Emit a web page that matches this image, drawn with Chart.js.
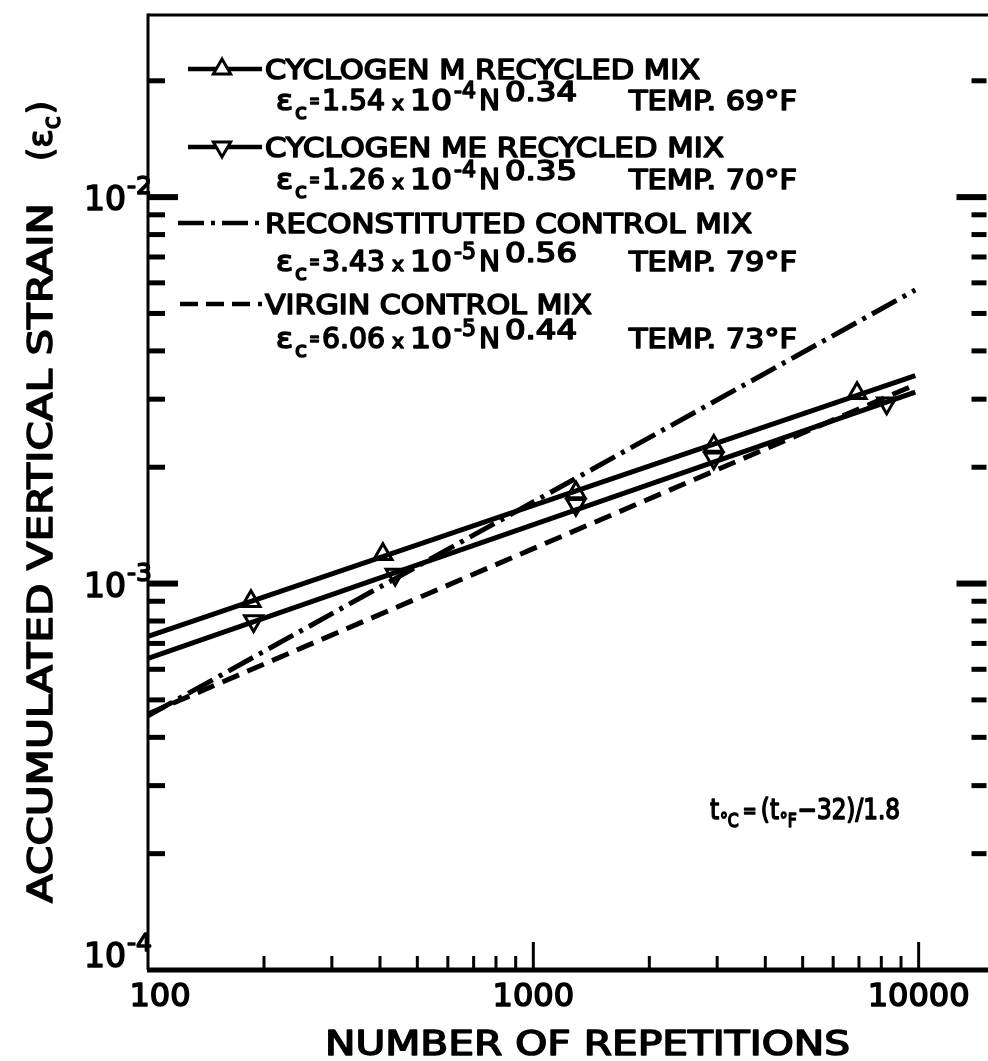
<!DOCTYPE html>
<html>
<head>
<meta charset="utf-8">
<script src="https://cdn.jsdelivr.net/npm/chart.js@4.4.1/dist/chart.umd.min.js"></script>
<style>
  html, body { margin: 0; padding: 0; background: #fff; overflow: hidden; }
  #wrap { width: 1000px; height: 1061px; }
</style>
</head>
<body>
<div id="wrap"><canvas id="c" width="1000" height="1061"></canvas></div>
<script>
// ---------------- DATA ----------------
const fitN = [100, 9800];                       // N range of fitted lines
const cycloMFit  = [7.3e-4, 3.45e-3];           // CYCLOGEN M fit line
const cycloMEFit = [6.4e-4, 3.13e-3];           // CYCLOGEN ME fit line
const reconFit   = [4.55e-4, 5.75e-3];          // RECONSTITUTED (dash-dot)
const virginFit  = [4.6e-4, 3.27e-3];           // VIRGIN (dashed)

const cycloMN   = [185, 407, 1290, 2940, 6920];
const cycloMVal = [9.0e-4, 1.19e-3, 1.72e-3, 2.27e-3, 3.11e-3];
const cycloMEN   = [188, 438, 1290, 2940, 8260];
const cycloMEVal = [8.0e-4, 1.055e-3, 1.6e-3, 2.11e-3, 2.93e-3];

const seriesNames = ['CYCLOGEN M RECYCLED MIX', 'CYCLOGEN ME RECYCLED MIX', 'RECONSTITUTED CONTROL MIX', 'VIRGIN CONTROL MIX'];
const coefMantissa = ['1.54', '1.26', '3.43', '6.06'];
const coefExp = ['-4', '-4', '-5', '-5'];
const powers = ['0.34', '0.35', '0.56', '0.44'];
const temps = ['69', '70', '79', '73'];

const xTickValues = [100, 1000, 10000];
const xTickLabels = ['100', '1000', '10000'];
const yTickValues = [1e-4, 1e-3, 1e-2];
const yTickExps = ['-4', '-3', '-2'];

const xTitle = 'NUMBER OF REPETITIONS';
const yTitle = 'ACCUMULATED VERTICAL STRAIN';
const noteText = ['t', '\u00B0C', '=', '(t', '\u00B0F', '\u221232)/1.8'];
const xMin = 100, xMax = 15000, yMin = 1e-4, yMax = 0.0296;

// ---------------- helpers ----------------
const FAM = '"DejaVu Sans", sans-serif';
const SW = 1.6; // extra stroke to mimic pen lettering
function mk(xsArr, ysArr) { return xsArr.map((x, i) => ({ x: x, y: ysArr[i] })); }
function txt(ctx, s, x, base, size, k, align) {
  ctx.font = size + 'px ' + FAM;
  const w = ctx.measureText(s).width * k;
  let x0 = x;
  if (align === 'center') x0 = x - w / 2; else if (align === 'right') x0 = x - w;
  ctx.save(); ctx.translate(x0, base); ctx.scale(k, 1);
  ctx.textAlign = 'left'; ctx.textBaseline = 'alphabetic';
  ctx.fillText(s, 0, 0);
  ctx.lineWidth = SW; ctx.lineJoin = 'round'; ctx.strokeText(s, 0, 0);
  ctx.restore();
  return x0 + w;
}
function fitText(ctx, s, x, base, size, width) {
  ctx.font = size + 'px ' + FAM;
  const k = width / ctx.measureText(s).width;
  txt(ctx, s, x, base, size, k, 'left');
  return k;
}
function seg(ctx, x1, y1, x2, y2) { ctx.beginPath(); ctx.moveTo(x1, y1); ctx.lineTo(x2, y2); ctx.stroke(); }
function tri(ctx, x, y, r, down) {
  const h = r * 1.5, w = r * 1.732;
  ctx.beginPath();
  if (!down) { ctx.moveTo(x, y - r); ctx.lineTo(x - w / 2, y + h - r); ctx.lineTo(x + w / 2, y + h - r); }
  else { ctx.moveTo(x, y + r); ctx.lineTo(x - w / 2, y - h + r); ctx.lineTo(x + w / 2, y - h + r); }
  ctx.closePath(); ctx.fillStyle = '#fff'; ctx.fill(); ctx.lineWidth = 3; ctx.stroke(); ctx.fillStyle = '#000';
}

const deco = {
  id: 'deco',
  afterDraw(chart) {
    const ctx = chart.ctx, a = chart.chartArea, xs = chart.scales.x, ys = chart.scales.y;
    ctx.save();
    ctx.strokeStyle = '#000'; ctx.fillStyle = '#000'; ctx.lineCap = 'butt';
    // frame (right edge lies beyond the picture)
    ctx.lineWidth = 3;
    seg(ctx, a.left, a.top, a.right + 10, a.top);
    seg(ctx, a.left, a.top - 1.5, a.left, a.bottom);
    ctx.lineWidth = 5;
    seg(ctx, a.left - 1, a.bottom, a.right + 10, a.bottom);

    // x ticks (bottom, inward)
    for (let d = 100; d <= xMax; d *= 10) {
      for (let m = 1; m <= 9; m++) {
        const v = d * m; if (v <= xMin || v >= xMax) continue;
        const px = xs.getPixelForValue(v);
        const len = (m === 1) ? 28 : 14;
        ctx.lineWidth = 3; seg(ctx, px, a.bottom, px, a.bottom - len);
      }
    }
    // y ticks (left and right, inward)
    for (let d = 1e-4; d <= yMax; d *= 10) {
      for (let m = 1; m <= 9; m++) {
        const v = d * m; if (v <= yMin * 1.0001 || v >= yMax) continue;
        const py = ys.getPixelForValue(v);
        const major = (m === 1);
        ctx.lineWidth = major ? 6 : 5;
        seg(ctx, a.left, py, a.left + (major ? 30 : 17), py);
        seg(ctx, a.right, py, a.right - (major ? 30 : 15), py);
      }
    }

    // x tick labels
    xTickValues.forEach((v, i) => {
      let px = xs.getPixelForValue(v);
      if (i === 0) px += 12;
      txt(ctx, xTickLabels[i], px, 1006, 32, 1.0, 'center');
    });
    // y tick labels 10^n
    yTickValues.forEach((v, i) => {
      const py = ys.getPixelForValue(v);
      const off = (i === 0) ? -3 : 13;
      txt(ctx, '10', 126, py + off, 33, 1.0, 'right');
      txt(ctx, yTickExps[i], 127, py + off - 16, 25, 1.0, 'left');
    });

    // axis titles
    fitText(ctx, xTitle, 325, 1055, 34, 525);
    ctx.save();
    ctx.translate(52, 903); ctx.rotate(-Math.PI / 2);
    fitText(ctx, yTitle, 0, 0, 34, 700);
    let xe = txt(ctx, '(\u03B5', 742, 0, 34, 1.0, 'left');
    xe = txt(ctx, 'c', xe, 8, 24, 1.0, 'left');
    txt(ctx, ')', xe + 2, 0, 34, 1.0, 'left');
    ctx.restore();

    // legend
    const labBase = [79, 157, 233, 314];
    const forBase = [110, 189, 271, 348];
    const labW = [435, 459, 487, 327];
    seriesNames.forEach((name, i) => {
      const yl = labBase[i] - 10;
      ctx.lineWidth = 4.5;
      if (i === 0 || i === 1) {
        ctx.setLineDash([]);
        seg(ctx, 188, yl, 262, yl);
        tri(ctx, 222, yl, 10, i === 1);
      } else if (i === 2) {
        ctx.setLineDash([26, 7, 4, 7]); seg(ctx, 178, yl, 262, yl); ctx.setLineDash([]);
      } else {
        ctx.setLineDash([18, 8]); seg(ctx, 180, yl, 262, yl); ctx.setLineDash([]);
      }
      fitText(ctx, name, 265, labBase[i], 27, labW[i]);
      // formula row
      const b = forBase[i];
      fitText(ctx, '\u03B5', 276, b, 28, 17);
      fitText(ctx, 'c', 295, b + 9, 21, 12);
      fitText(ctx, '=', 309, b - 2, 21, 11);
      fitText(ctx, coefMantissa[i], 322, b, 28, 63);
      fitText(ctx, 'x', 392, b, 20, 12);
      fitText(ctx, '10', 410, b, 28, 42);
      fitText(ctx, coefExp[i], 454, b - 12, 23, 22);
      fitText(ctx, 'N', 479, b, 28, 21);
      fitText(ctx, powers[i], 505, b - 9, 26, 72);
      fitText(ctx, 'TEMP. ' + temps[i] + '\u00B0F', 629, b, 27, 168);
    });

    // conversion note, fitted between x=710 and x=900
    const sizes = [28, 19, 20, 28, 19, 28];
    const dy = [0, 8, -2, 0, 8, 0];
    const gap = [0, 1, 5, 5, 1, 1];
    let natural = 0;
    noteText.forEach((s, i) => { ctx.font = sizes[i] + 'px ' + FAM; natural += ctx.measureText(s).width + gap[i]; });
    const kn = 190 / natural;
    let nx = 710; const nb = 819;
    noteText.forEach((s, i) => { nx = txt(ctx, s, nx + gap[i] * kn, nb + dy[i], sizes[i], kn, 'left'); });
    ctx.restore();
  }
};

const lineBase = { showLine: true, pointRadius: 0, borderColor: '#000', borderWidth: 5, fill: false, tension: 0 };
const markBase = { showLine: false, pointStyle: 'triangle', pointRadius: 10.5, pointBorderWidth: 3,
  pointBackgroundColor: '#fff', pointBorderColor: '#000', borderColor: '#000', backgroundColor: '#fff' };

new Chart(document.getElementById('c'), {
  type: 'scatter',
  data: {
    datasets: [
      Object.assign({ label: 'virgin', data: mk(fitN, virginFit), borderDash: [18, 9] }, lineBase),
      Object.assign({ label: 'recon', data: mk(fitN, reconFit), borderDash: [28, 7, 4, 7] }, lineBase),
      Object.assign({ label: 'cycloME', data: mk(fitN, cycloMEFit) }, lineBase),
      Object.assign({ label: 'cycloM', data: mk(fitN, cycloMFit) }, lineBase),
      Object.assign({ label: 'cycloME pts', data: mk(cycloMEN, cycloMEVal), pointRotation: 180 }, markBase),
      Object.assign({ label: 'cycloM pts', data: mk(cycloMN, cycloMVal), pointRotation: 0 }, markBase)
    ]
  },
  options: {
    responsive: false, animation: false, devicePixelRatio: 1,
    layout: { padding: { left: 148, top: 15, right: 8, bottom: 91 } },
    plugins: { legend: { display: false }, tooltip: { enabled: false } },
    scales: {
      x: { type: 'logarithmic', min: xMin, max: xMax, display: false },
      y: { type: 'logarithmic', min: yMin, max: yMax, display: false }
    }
  },
  plugins: [deco]
});
</script>
</body>
</html>
